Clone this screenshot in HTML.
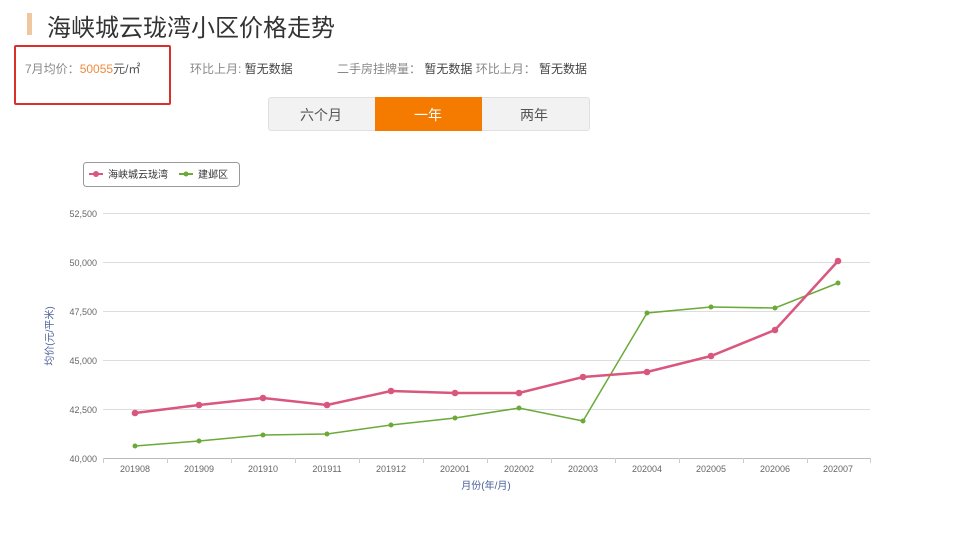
<!DOCTYPE html>
<html><head><meta charset="utf-8"><style>
body{margin:0;width:960px;height:535px;background:#fff;font-family:"Liberation Sans","Noto Sans CJK SC",sans-serif;position:relative;overflow:hidden}
.a{position:absolute;white-space:nowrap}
</style></head><body>
<div class="a" style="left:27px;top:13px;width:5px;height:22px;background:#f0c8a0"></div>
<div class="a" style="left:47px;top:8px;font-size:24px;color:#333">海峡城云珑湾小区价格走势</div>
<div class="a" style="left:14px;top:45px;width:153px;height:56px;border:2px solid #d9302c;border-radius:2px"></div>
<div class="a" style="left:25px;top:60px;font-size:12px;color:#888">7月均价：<span style="color:#f08a3c">50055</span><span style="color:#555">元/㎡</span></div>
<div class="a" style="left:190px;top:60px;font-size:12px;color:#888">环比上月: <span style="color:#444">暂无数据</span></div>
<div class="a" style="left:337px;top:60px;font-size:12px;color:#888">二手房挂牌量： <span style="color:#444">暂无数据</span> 环比上月： <span style="color:#444">暂无数据</span></div>
<div class="a" style="left:268px;top:97px;width:320px;height:32px;background:#f2f2f2;border:1px solid #e0e0e0;border-radius:3px"></div>
<div class="a" style="left:375px;top:97px;width:107px;height:34px;background:#f57a00"></div>
<div class="a" style="left:300px;top:105px;font-size:14px;color:#555">六个月</div>
<div class="a" style="left:414px;top:105px;font-size:14px;color:#fff">一年</div>
<div class="a" style="left:520px;top:105px;font-size:14px;color:#555">两年</div>
<svg class="a" style="left:0;top:0" width="960" height="535">
<rect x="83.5" y="162.5" width="156" height="24" rx="3" fill="#fff" stroke="#999"/>
<line x1="89" y1="174" x2="103" y2="174" stroke="#d9577f" stroke-width="2"/><circle cx="96" cy="174" r="3" fill="#d9577f"/>
<text x="108" y="178" font-size="10" fill="#333">海峡城云珑湾</text>
<line x1="179" y1="174" x2="193" y2="174" stroke="#6aaa38" stroke-width="2"/><circle cx="186" cy="174" r="2.5" fill="#6aaa38"/>
<text x="198" y="178" font-size="10" fill="#333">建邺区</text>
<g stroke="#ddd" stroke-width="1">
<line x1="103" y1="213.5" x2="870" y2="213.5"/><line x1="103" y1="262.5" x2="870" y2="262.5"/><line x1="103" y1="311.5" x2="870" y2="311.5"/><line x1="103" y1="360.5" x2="870" y2="360.5"/><line x1="103" y1="409.5" x2="870" y2="409.5"/><line x1="103" y1="458.5" x2="870" y2="458.5" stroke="#bbb"/>
</g>
<g stroke="#ccc"><line x1="103.5" y1="458" x2="103.5" y2="463"/><line x1="167.5" y1="458" x2="167.5" y2="463"/><line x1="231.5" y1="458" x2="231.5" y2="463"/><line x1="295.5" y1="458" x2="295.5" y2="463"/><line x1="359.5" y1="458" x2="359.5" y2="463"/><line x1="423.5" y1="458" x2="423.5" y2="463"/><line x1="487.5" y1="458" x2="487.5" y2="463"/><line x1="551.5" y1="458" x2="551.5" y2="463"/><line x1="615.5" y1="458" x2="615.5" y2="463"/><line x1="679.5" y1="458" x2="679.5" y2="463"/><line x1="743.5" y1="458" x2="743.5" y2="463"/><line x1="807.5" y1="458" x2="807.5" y2="463"/><line x1="870.5" y1="458" x2="870.5" y2="463"/></g>
<g font-size="9" fill="#666" text-anchor="end">
<text x="97" y="217">52,500</text><text x="97" y="266">50,000</text><text x="97" y="315">47,500</text><text x="97" y="364">45,000</text><text x="97" y="413">42,500</text><text x="97" y="462">40,000</text></g>
<g font-size="9" fill="#666" text-anchor="middle">
<text x="135" y="472">201908</text><text x="199" y="472">201909</text><text x="263" y="472">201910</text><text x="327" y="472">201911</text><text x="391" y="472">201912</text><text x="455" y="472">202001</text><text x="519" y="472">202002</text><text x="583" y="472">202003</text><text x="647" y="472">202004</text><text x="711" y="472">202005</text><text x="775" y="472">202006</text><text x="838" y="472">202007</text></g>
<text x="486" y="489" font-size="10" fill="#4a5f99" text-anchor="middle">月份(年/月)</text>
<text transform="translate(53,336) rotate(-90)" font-size="10" fill="#4a5f99" text-anchor="middle">均价(元/平米)</text>
<polyline fill="none" stroke="#6aaa38" stroke-width="1.5" points="135,446 199,441 263,435 327,434 391,425 455,418 519,408 583,421 647,313 711,307 775,308 838,283"/>
<g fill="#6aaa38"><circle cx="135" cy="446" r="2.5"/><circle cx="199" cy="441" r="2.5"/><circle cx="263" cy="435" r="2.5"/><circle cx="327" cy="434" r="2.5"/><circle cx="391" cy="425" r="2.5"/><circle cx="455" cy="418" r="2.5"/><circle cx="519" cy="408" r="2.5"/><circle cx="583" cy="421" r="2.5"/><circle cx="647" cy="313" r="2.5"/><circle cx="711" cy="307" r="2.5"/><circle cx="775" cy="308" r="2.5"/><circle cx="838" cy="283" r="2.5"/></g>
<polyline fill="none" stroke="#d9577f" stroke-width="2.5" points="135,413 199,405 263,398 327,405 391,391 455,393 519,393 583,377 647,372 711,356 775,330 838,261"/>
<g fill="#d9577f"><circle cx="135" cy="413" r="3.3"/><circle cx="199" cy="405" r="3.3"/><circle cx="263" cy="398" r="3.3"/><circle cx="327" cy="405" r="3.3"/><circle cx="391" cy="391" r="3.3"/><circle cx="455" cy="393" r="3.3"/><circle cx="519" cy="393" r="3.3"/><circle cx="583" cy="377" r="3.3"/><circle cx="647" cy="372" r="3.3"/><circle cx="711" cy="356" r="3.3"/><circle cx="775" cy="330" r="3.3"/><circle cx="838" cy="261" r="3.3"/></g>
</svg>
</body></html>
